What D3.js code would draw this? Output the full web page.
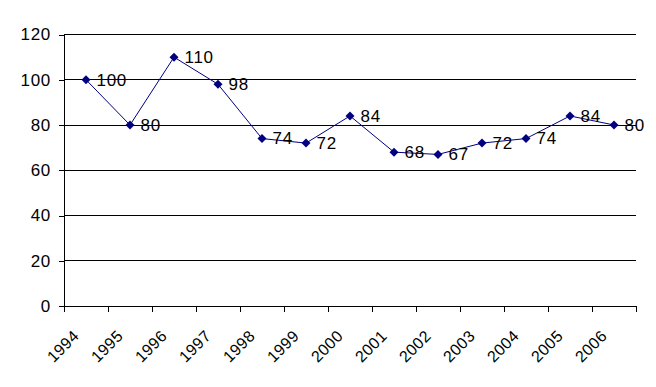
<!DOCTYPE html>
<html>
<head>
<meta charset="utf-8">
<title>Chart</title>
<style>
  body { margin: 0; background: #fff; }
  svg text { font-family: "Liberation Sans", Arial, sans-serif; font-size: 17px; letter-spacing: 0.7px; fill: #000; }
  svg text.year { font-size: 16px; letter-spacing: 0.4px; }
</style>
</head>
<body>
<div id="chart"></div>
<script src="https://d3js.org/d3.v7.min.js"></script>
<script>
// data
const years = ["1994", "1995", "1996", "1997", "1998", "1999", "2000",
               "2001", "2002", "2003", "2004", "2005", "2006"];
const values = [100, 80, 110, 98, 74, 72, 84, 68, 67, 72, 74, 84, 80];
const yTicks = [0, 20, 40, 60, 80, 100, 120];

const W = 656, H = 387;
const plotLeft = 64, plotRight = 636, plotTop = 34.5, plotBottom = 306;

const svg = d3.select("#chart").append("svg")
    .attr("width", W).attr("height", H);

const x = d3.scaleBand().domain(years).range([plotLeft, plotRight]);
const y = d3.scaleLinear().domain([0, 120]).range([plotBottom, plotTop]);

// gridlines
svg.append("g").selectAll("line")
    .data(yTicks.filter(d => d > 0))
    .join("line")
    .attr("x1", plotLeft).attr("x2", plotRight)
    .attr("y1", d => y(d)).attr("y2", d => y(d))
    .attr("stroke", "#000").attr("stroke-width", 1)
    .attr("shape-rendering", "crispEdges");

// y axis
const yAxis = svg.append("g")
    .attr("transform", `translate(${plotLeft},0)`)
    .call(d3.axisLeft(y).tickValues(yTicks).tickSize(5).tickPadding(8));
yAxis.select(".domain").attr("stroke", "#000").attr("shape-rendering", "crispEdges");
yAxis.selectAll(".tick line").attr("shape-rendering", "crispEdges");
yAxis.selectAll("text").attr("font-size", null).attr("font-family", null);

// x axis: ticks at band edges
const xAxis = svg.append("g").attr("transform", `translate(0,${plotBottom})`);
xAxis.append("line")
    .attr("x1", plotLeft).attr("x2", plotRight)
    .attr("stroke", "#000").attr("shape-rendering", "crispEdges");
xAxis.selectAll(".edge")
    .data(years.concat(["end"]))
    .join("line")
    .attr("class", "edge")
    .attr("x1", (d, i) => i < years.length ? x(d) : plotRight)
    .attr("x2", (d, i) => i < years.length ? x(d) : plotRight)
    .attr("y1", 0).attr("y2", 6)
    .attr("stroke", "#000").attr("shape-rendering", "crispEdges");
xAxis.selectAll("text")
    .data(years)
    .join("text")
    .attr("class", "year")
    .attr("text-anchor", "end")
    .attr("transform", d => `translate(${x(d) + x.bandwidth() / 2 - 6},31) rotate(-45)`)
    .text(d => d);

// line
const cx = d => x(d) + x.bandwidth() / 2;
svg.append("path")
    .datum(values)
    .attr("fill", "none")
    .attr("stroke", "#000080")
    .attr("stroke-width", 1)
    .attr("d", d3.line().x((d, i) => cx(years[i])).y(d => y(d)));

// markers
svg.append("g").selectAll("path")
    .data(values)
    .join("path")
    .attr("transform", (d, i) => `translate(${cx(years[i])},${y(d)})`)
    .attr("d", "M0,-4.5L4.5,0L0,4.5L-4.5,0Z")
    .attr("fill", "#000080");

// data labels
svg.append("g").selectAll("text")
    .data(values)
    .join("text")
    .attr("x", (d, i) => cx(years[i]) + 10.5)
    .attr("y", d => y(d))
    .attr("dy", "0.34em")
    .text(d => d);
</script>
</body>
</html>
